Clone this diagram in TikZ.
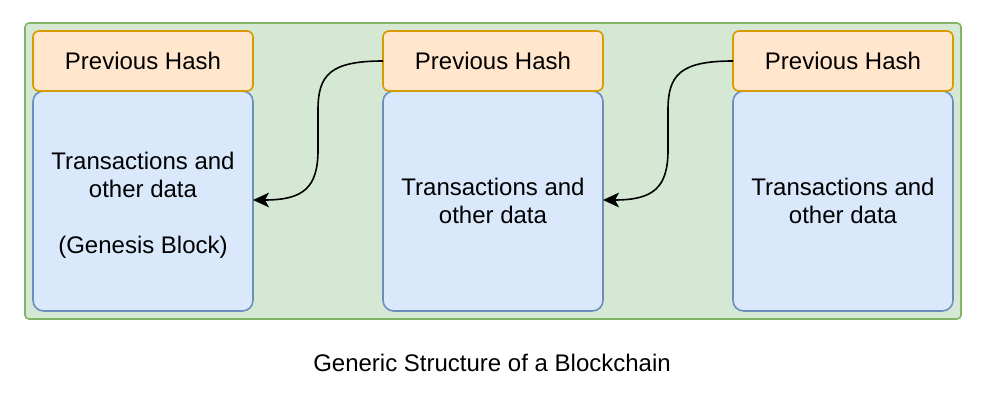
\documentclass[tikz,border=0pt]{standalone}
\usepackage{fontspec}
\setmainfont{Liberation Sans}
\usetikzlibrary{arrows.meta}
\definecolor{grfill}{HTML}{D5E8D4}
\definecolor{grline}{HTML}{82B366}
\definecolor{orfill}{HTML}{FFE6CC}
\definecolor{orline}{HTML}{D79B00}
\definecolor{blfill}{HTML}{DAE8FC}
\definecolor{blline}{HTML}{6C8EBF}
\tikzset{
  container/.style={draw=grline, fill=grfill, line width=1.2pt, rounded corners=3pt},
  hashbox/.style={draw=orline, fill=orfill, line width=1.2pt, rounded corners=4.5pt,
    minimum width=165pt, minimum height=45pt, inner sep=0pt, outer sep=0pt,
    font=\fontsize{18}{21}\selectfont},
  databox/.style={draw=blline, fill=blfill, line width=1.2pt, rounded corners=8pt,
    minimum width=165pt, minimum height=165pt, inner sep=0pt, outer sep=0pt,
    align=center, font=\fontsize{18}{21}\selectfont},
  link/.style={draw=black, line width=1.2pt, -{Stealth[length=12pt,width=11pt,inset=3pt]}},
  caption/.style={font=\fontsize{18}{21}\selectfont, inner sep=0pt}
}
\begin{document}
\begin{tikzpicture}[x=0.75pt, y=-0.75pt]
\useasboundingbox (0,0) rectangle (988,406);
\node[container, minimum width=702pt, minimum height=222pt, inner sep=0pt, outer sep=0pt] (frame) at (493,171) {};
\node[databox] (b1) at (143,201) {\\[-2pt]Transactions and\\other data\\[21pt](Genesis Block)};
\node[databox] (b2) at (493,201) {Transactions and\\other data};
\node[databox] (b3) at (843,201) {Transactions and\\other data};
\node[hashbox] (h1) at (143,61) {Previous Hash};
\node[hashbox] (h2) at (493,61) {Previous Hash};
\node[hashbox] (h3) at (843,61) {Previous Hash};
\coordinate (e1) at ([yshift=0.75pt]b1.east);
\coordinate (e2) at ([yshift=0.75pt]b2.east);
\draw[link] (h2.west) .. controls +(-53,0) and +(0,-35) .. ++(-65,49) -- ++(0,40) .. controls +(0,38) and +(50,0) .. (e1);
\draw[link] (h3.west) .. controls +(-53,0) and +(0,-35) .. ++(-65,49) -- ++(0,40) .. controls +(0,38) and +(50,0) .. (e2);
\node[caption] (cap) at (492,363) {Generic Structure of a Blockchain};
\end{tikzpicture}
\end{document}
